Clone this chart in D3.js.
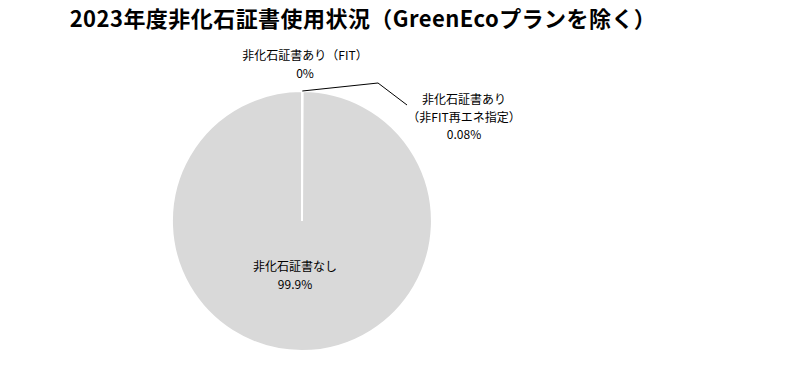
<!DOCTYPE html>
<html>
<head>
<meta charset="utf-8">
<script src="https://cdn.jsdelivr.net/npm/d3@7"></script>
<style>
  body { margin: 0; background: #fff; }
  text { font-family: "Noto Sans CJK JP", sans-serif; }
</style>
</head>
<body>
<div id="chart"></div>
<script>
// Chart data
const categories = ["非化石証書あり（FIT）", "非化石証書あり（非FIT再エネ指定）", "非化石証書なし"];
const values = [0, 0.08, 99.92];
const valueLabels = ["0%", "0.08%", "99.9%"];
const title = "2023年度非化石証書使用状況（GreenEcoプランを除く）";

const width = 800, height = 380;
const cx = 302, cy = 221, radius = 130;

const svg = d3.select("#chart").append("svg")
    .attr("width", width)
    .attr("height", height);

svg.append("text")
    .attr("x", 363)
    .attr("y", 27)
    .attr("text-anchor", "middle")
    .style("font-size", "22px")
    .style("font-weight", "bold")
    .style("letter-spacing", "0.45px")
    .text(title);

let pie = d3.pie().sort(null).value(d => d);
let arc = d3.arc().innerRadius(0).outerRadius(radius);
let arcs = pie(values);

let g = svg.append("g").attr("transform", `translate(${cx},${cy})`);

g.selectAll("path")
    .data(arcs)
    .enter().append("path")
    .attr("d", arc)
    .attr("fill", "#d9d9d9")
    .attr("stroke", "#fff")
    .attr("stroke-width", 2);

// leader line for the small slice
let mid = (arcs[1].startAngle + arcs[1].endAngle) / 2;
let p0 = [Math.sin(mid) * radius, -Math.cos(mid) * radius];
g.append("polyline")
    .attr("points", [p0, [76, -138], [105, -116]].map(p => p.join(",")).join(" "))
    .attr("fill", "none")
    .attr("stroke", "#000")
    .attr("stroke-width", 1);

// labels (offsets from pie centre)
const labelLayout = [
    { x: 3, y: -161, lines: ["非化石証書あり（FIT）", valueLabels[0]] },
    { x: 162, y: -117, lines: ["非化石証書あり", "（非FIT再エネ指定）", valueLabels[1]] },
    { x: -7, y: 50, lines: ["非化石証書なし", valueLabels[2]] }
];

labelLayout.forEach(l => {
    l.lines.forEach((s, i) => {
        g.append("text")
            .attr("text-anchor", "middle")
            .style("font-size", "12px")
            .attr("fill", "#000")
            .attr("x", l.x)
            .attr("y", l.y + i * 17.5)
            .text(s);
    });
});
</script>
</body>
</html>
